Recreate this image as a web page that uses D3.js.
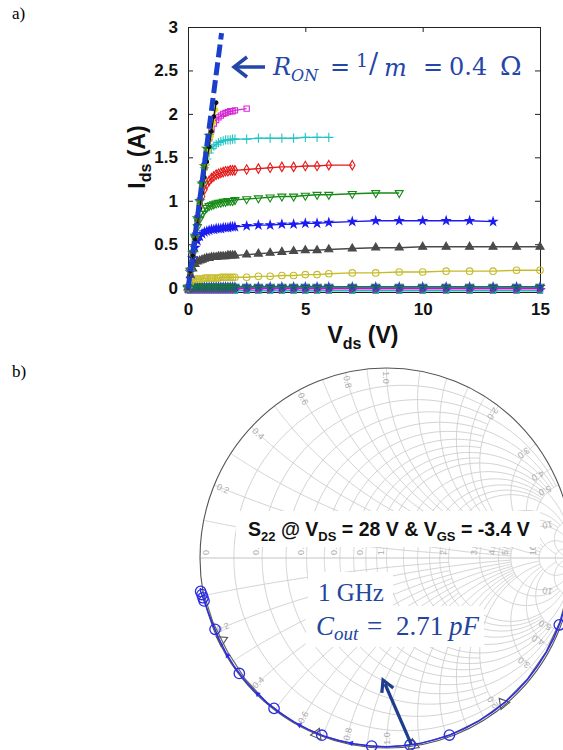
<!DOCTYPE html>
<meta charset="utf-8">
<style>
  body { margin: 0; background: #fff; }
  svg { display: block; font-family: "Liberation Sans", Arial, sans-serif; }
</style>
<script src="https://d3js.org/d3.v7.min.js"></script>
<body>
<svg id="fig" width="563" height="750"></svg>
<script>

// ---------- panel a) data : Ids (A) vs Vds (V) ----------
var vds = [0,0.1,0.2,0.3,0.4,0.5,0.6,0.7,0.8,0.9,1,1.1,1.2,1.3,1.4,1.5,1.6,1.7,1.8,1.9,2,
           2.5,3,3.5,4,4.5,5,5.5,6,7,8,9,10,11,12,13,14,15];

var idsMagenta = [0,0.2,0.4,0.6,0.8,1.0,1.2,1.4,1.58,1.72,1.82,1.89,1.93,1.96,1.98,2.0,2.01,2.02,2.03,2.03,2.04,2.06];
var idsCyan = [0,0.2,0.4,0.6,0.8,1.0,1.2,1.38,1.48,1.55,1.6,1.63,1.65,1.67,1.68,1.69,1.7,1.7,1.7,1.71,1.71,
               1.71,1.72,1.72,1.72,1.72,1.73,1.73,1.73];
var idsRed = [0,0.2,0.4,0.6,0.78,0.94,1.05,1.13,1.19,1.23,1.26,1.28,1.3,1.31,1.32,1.33,1.34,1.34,1.35,1.35,1.35,
              1.36,1.37,1.38,1.39,1.39,1.4,1.4,1.41,1.41];
var idsGreen = [0,0.2,0.4,0.57,0.7,0.79,0.85,0.89,0.92,0.94,0.95,0.96,0.97,0.98,0.98,0.99,0.99,1.0,1.0,1.0,1.01,
                1.02,1.03,1.04,1.05,1.05,1.06,1.07,1.07,1.08,1.09,1.09];
var idsBlue = [0,0.18,0.34,0.46,0.54,0.59,0.62,0.64,0.65,0.66,0.67,0.67,0.68,0.68,0.68,0.69,0.69,0.69,0.7,0.7,0.7,
               0.71,0.72,0.72,0.73,0.73,0.74,0.74,0.75,0.76,0.77,0.77,0.77,0.77,0.77,0.76];
var idsGray = [0,0.14,0.22,0.27,0.3,0.31,0.32,0.33,0.34,0.34,0.35,0.35,0.35,0.36,0.36,0.36,0.36,0.37,0.37,0.37,0.37,
               0.38,0.39,0.4,0.41,0.42,0.43,0.43,0.44,0.45,0.46,0.46,0.47,0.47,0.47,0.47,0.47,0.47];
var idsOlive = [0,0.06,0.09,0.1,0.1,0.1,0.1,0.11,0.11,0.11,0.11,0.11,0.11,0.11,0.12,0.12,0.12,0.12,0.12,0.12,0.12,
                0.12,0.13,0.13,0.14,0.14,0.15,0.15,0.16,0.17,0.17,0.18,0.18,0.19,0.19,0.19,0.2,0.2];
var idsOffGreen = [0,0.01,0.012,0.012,0.012,0.012,0.012,0.012,0.012,0.012,0.012,0.012,0.012,0.012,0.012,0.012,0.012,0.012,0.012,0.012,0.012,
                   0.012,0.012,0.012,0.012,0.012,0.012,0.012,0.012,0.012,0.012,0.012,0.012,0.012,0.012,0.012,0.012,0.012];
var idsOffBlue = [0,0.006,0.008,0.008,0.008,0.008,0.008,0.008,0.008,0.008,0.008,0.008,0.008,0.008,0.008,0.008,0.008,0.008,0.008,0.008,0.008,
                  0.008,0.008,0.008,0.008,0.008,0.008,0.008,0.008,0.008,0.008,0.008,0.008,0.008,0.008,0.008,0.008,0.008];
var idsOffMagenta = [-0.01,-0.012,-0.012,-0.012,-0.012,-0.012,-0.012,-0.012,-0.012,-0.012,-0.012,-0.012,-0.012,-0.012,-0.012,-0.012,-0.012,-0.012,-0.012,-0.012,-0.012,
                     -0.012,-0.012,-0.012,-0.012,-0.012,-0.012,-0.012,-0.012,-0.012,-0.012,-0.012,-0.012,-0.012,-0.012,-0.012,-0.012,-0.012];
var idsOffCyan = [-0.03,-0.035,-0.035,-0.035,-0.035,-0.035,-0.035,-0.035,-0.035,-0.035,-0.035,-0.035,-0.035,-0.035,-0.035,-0.035,-0.035,-0.035,-0.035,-0.035,-0.035,
                  -0.035,-0.035,-0.035,-0.035,-0.035,-0.035,-0.035,-0.035,-0.035,-0.035,-0.035,-0.035,-0.035,-0.035,-0.035,-0.035,-0.035];
// high Vgs curves that stay in the linear (Ron) region
var idsBlack = [0,0.19,0.37,0.55,0.73,0.91,1.09,1.27,1.45,1.62,1.8,1.97,2.13];
var idsYellow = [0,0.19,0.37,0.55,0.73,0.91,1.08,1.25,1.42,1.58,1.74,1.9,2.05];
var idsGreenLin = [0,0.2,0.4,0.6,0.8,1.0,1.2,1.4,1.6,1.75];

var ronLine = [[0, -0.02], [1.43, 2.93]];
var xTicks = [0, 5, 10, 15];
var yTicks = [0, 0.5, 1, 1.5, 2, 2.5, 3];

// ---------- panel b) data : S22 on Smith chart (angle deg, magnitude) ----------
var s22Line = [[-171,1.01],[-170,1.012],[-168,1.006],[-165,1.0],[-160,0.995],[-155,0.994],[-150,0.995],[-145,0.996],
               [-140,0.996],[-135,0.995],[-130,0.995],[-125,0.995],[-120,0.995],[-115,0.995],[-110,0.995],[-105,0.994],
               [-100,0.993],[-95,0.993],[-90,0.993],[-85,0.992],[-80,0.992],[-75,0.991],[-70,0.991],[-65,0.991],
               [-60,0.99],[-55,0.99],[-50,0.99],[-45,0.99],[-40,0.99],[-35,0.99],[-30,0.99],[-25,0.991],
               [-20,0.991],[-15,0.991],[-10,0.992]];
var s22Circles = [[-170,1.012],[-169,1.008],[-168,1.006],[-167,1.004],[-157.8,0.993],[-142.4,0.996],[-127.3,0.995],
                  [-110.4,0.995],[-94.6,0.993],[-82.7,0.992],[-70.1,0.991],[-20.8,0.991]];
var s22Arrows = [[-149,0.995],[-134,0.995],[-118,0.995],[-101,0.993]];
var modelLine = [[-170,1.0],[-160,0.99],[-150,0.985],[-140,0.99],[-130,0.995],[-120,0.998],[-110,0.998],[-100,0.996],
                 [-90,0.995],[-80,0.994],[-70,0.992],[-60,0.99],[-50,0.989],[-40,0.988],[-30,0.988],[-20,0.988],[-10,0.99]];
var modelTriangles = [[-153.9,0.984],[-111.9,1.0],[-81.7,0.995],[-50.7,0.989]];

var rGrid = [0.1,0.2,0.3,0.4,0.5,0.6,0.7,0.8,0.9,1,1.2,1.4,1.6,1.8,2,3,4,5,10,20];
var rGridLimit = [2,5,2,5,2,5,2,5,2,10,5,5,5,5,10,10,10,20,50,50];
var xGrid = [0.1,0.2,0.3,0.4,0.5,0.6,0.7,0.8,0.9,1,1.2,1.4,1.6,1.8,2,3,4,5,10,20];
var xGridLimit = [2,5,2,5,2,5,2,5,2,10,5,5,5,5,10,10,10,20,50,50];
var rLabels = ["0","0.2","0.4","0.6","0.8","1.0","2","3.0","4.0","5.0","10"];
var rLabelVals = [0,0.2,0.4,0.6,0.8,1.0,2,3,4,5,10];
var xLabels = ["0.2","0.4","0.6","0.8","1.0","2.0","3.0","4.0","5.0","10"];
var xLabelVals = [0.2,0.4,0.6,0.8,1.0,2,3,4,5,10];

var svg = d3.select("#fig");

// panel tags
svg.append("text").attr("x", 12).attr("y", 19).attr("font-family", "Liberation Serif").attr("font-size", 17).text("a)");
svg.append("text").attr("x", 12).attr("y", 377).attr("font-family", "Liberation Serif").attr("font-size", 17).text("b)");

// ================= panel a =================
var x = d3.scaleLinear().domain([0, 15]).range([188, 540]);
var y = d3.scaleLinear().domain([-0.05, 3]).range([292, 27]);

var gA = svg.append("g");

function styleAxis(g) {
    g.select(".domain").attr("stroke", "#222");
    g.selectAll(".tick line").attr("stroke", "#222");
}
gA.append("g").attr("transform", "translate(0,292)")
    .call(d3.axisBottom(x).tickValues(xTicks).tickSizeInner(-5).tickSizeOuter(0).tickPadding(11).tickFormat(d3.format("d")))
    .call(styleAxis)
    .selectAll("text").attr("font-size", 17).attr("font-weight", "bold").attr("fill", "#111").attr("font-family", "Liberation Sans");
gA.append("g").attr("transform", "translate(0,27)")
    .call(d3.axisTop(x).tickValues(xTicks).tickSizeInner(-5).tickSizeOuter(0).tickFormat(""))
    .call(styleAxis);
gA.append("g").attr("transform", "translate(188,0)")
    .call(d3.axisLeft(y).tickValues(yTicks).tickSizeInner(-5).tickSizeOuter(0).tickPadding(10).tickFormat(d3.format("")))
    .call(styleAxis)
    .selectAll("text").attr("font-size", 17).attr("font-weight", "bold").attr("fill", "#111").attr("font-family", "Liberation Sans");
gA.append("g").attr("transform", "translate(540,0)")
    .call(d3.axisRight(y).tickValues(yTicks).tickSizeInner(-5).tickSizeOuter(0).tickFormat(""))
    .call(styleAxis);

// axis titles
var yl = gA.append("text").attr("transform", "translate(145,157) rotate(-90)")
    .attr("text-anchor", "middle").attr("font-size", 23).attr("font-weight", "bold").attr("fill", "#111");
yl.append("tspan").text("I");
yl.append("tspan").attr("font-size", 16).attr("dy", 6).text("ds");
yl.append("tspan").attr("dy", -6).text(" (A)");

var xl = gA.append("text").attr("x", 363).attr("y", 343)
    .attr("text-anchor", "middle").attr("font-size", 23).attr("font-weight", "bold").attr("fill", "#111");
xl.append("tspan").text("V");
xl.append("tspan").attr("font-size", 16).attr("dy", 6).text("ds");
xl.append("tspan").attr("dy", -6).text(" (V)");

// curves
var curves = [
    {vals: idsOffCyan,   color: "#2fb5b5", marker: "square",  fill: "#2a6f6f"},
    {vals: idsOffMagenta,color: "#b01fc0", marker: "tright",  fill: "#b01fc0"},
    {vals: idsOffBlue,   color: "#2a2af0", marker: "star",    fill: "#2a2af0"},
    {vals: idsOffGreen,  color: "#1a7a3a", marker: "tdown",   fill: "none"},
    {vals: idsOlive,     color: "#c4bc2a", marker: "circle",  fill: "none"},
    {vals: idsGray,      color: "#4a4a4a", marker: "tup",     fill: "#4a4a4a"},
    {vals: idsBlue,      color: "#1c1cf0", marker: "star",    fill: "#1c1cf0"},
    {vals: idsGreen,     color: "#178a17", marker: "tdown",   fill: "none"},
    {vals: idsRed,       color: "#e41a1a", marker: "diamond", fill: "none"},
    {vals: idsCyan,      color: "#22c4c4", marker: "plus",    fill: "none"},
    {vals: idsMagenta,   color: "#d42ad4", marker: "square",  fill: "none"},
    {vals: idsGreenLin,  color: "#178a17", marker: "star",    fill: "#178a17"},
    {vals: idsYellow,    color: "#e0d420", marker: "point",   fill: "#e0d420"},
    {vals: idsBlack,     color: "#111111", marker: "point",   fill: "#111111"}
];

var symbolFor = {
    square: d3.symbol().type(d3.symbolSquare).size(28),
    diamond: d3.symbol().type(d3.symbolDiamond).size(26),
    circle: d3.symbol().type(d3.symbolCircle).size(34),
    tup: d3.symbol().type(d3.symbolTriangle).size(28),
    tdown: d3.symbol().type(d3.symbolTriangle).size(28),
    tright: d3.symbol().type(d3.symbolTriangle).size(28),
    star: d3.symbol().type(d3.symbolStar).size(20),
    plus: d3.symbol().type(d3.symbolPlus || d3.symbolCross).size(30),
    point: d3.symbol().type(d3.symbolCircle).size(10)
};
var rotFor = {tdown: 180, tright: 90};

var line = d3.line().x(function(d, i) { return x(vds[i]); }).y(function(d) { return y(d); });

curves.forEach(function(c) {
    var g = gA.append("g");
    g.append("path").attr("d", line(c.vals)).attr("fill", "none")
        .attr("stroke", c.color).attr("stroke-width", 1.4);
    g.selectAll("path.m").data(c.vals).enter().append("path").attr("class", "m")
        .attr("d", symbolFor[c.marker])
        .attr("transform", function(d, i) {
            return "translate(" + x(vds[i]) + "," + y(d) + ") rotate(" + (rotFor[c.marker] || 0) + ")";
        })
        .attr("fill", c.fill).attr("stroke", c.color).attr("stroke-width", 1.1);
});

// Ron dashed line
gA.append("path").attr("d", d3.line().x(function(d) { return x(d[0]); }).y(function(d) { return y(d[1]); })(ronLine))
    .attr("stroke", "#1a3fcc").attr("stroke-width", 5).attr("stroke-dasharray", "13,5").attr("fill", "none");

// annotation arrow + text
var annBlue = "#2446a8";
gA.append("line").attr("x1", 265).attr("y1", 67).attr("x2", 235).attr("y2", 67)
    .attr("stroke", annBlue).attr("stroke-width", 3.5);
gA.append("polyline").attr("points", "247,57 234,67 247,77").attr("fill", "none")
    .attr("stroke", annBlue).attr("stroke-width", 3.5).attr("stroke-linejoin", "miter");
var ron = gA.append("text").attr("y", 75).attr("fill", annBlue)
    .attr("font-family", "DejaVu Serif").attr("font-size", 24);
ron.append("tspan").attr("x", 273).attr("font-style", "italic").text("R");
ron.append("tspan").attr("font-style", "italic").attr("font-size", 16).attr("dy", 6).text("ON");
ron.append("tspan").attr("x", 330).attr("dy", -6).text("=");
ron.append("tspan").attr("x", 356).attr("font-size", 19).attr("dy", -8).text("1");
ron.append("tspan").attr("x", 369).attr("font-size", 27).attr("dy", 6).text("/");
ron.append("tspan").attr("x", 384).attr("font-style", "italic").attr("dy", 3).text("m");
ron.append("tspan").attr("x", 423).attr("dy", -1).text("=");
ron.append("tspan").attr("x", 449).text("0.4");
ron.append("tspan").attr("x", 500).attr("font-size", 26).text("Ω");

// ================= panel b : Smith chart =================
var gx = d3.scaleLinear().domain([-1, 1]).range([200, 573]);
var gy = d3.scaleLinear().domain([-1, 1]).range([748, 368]);
var gB = svg.append("g");

function gammaOf(r, xx) {
    var den = (r + 1) * (r + 1) + xx * xx;
    return [(r * r + xx * xx - 1) / den, 2 * xx / den];
}
var gline = d3.line().x(function(p) { return gx(p[0]); }).y(function(p) { return gy(p[1]); });
var N = 160;

// resistance circles
rGrid.forEach(function(r, k) {
    var lim = rGridLimit[k], pts = [];
    for (var i = -N; i <= N; i++) {
        var t = i / N;
        pts.push(gammaOf(r, lim * t * t * t));
    }
    gB.append("path").attr("d", gline(pts)).attr("fill", "none").attr("stroke", "#cdcdcd").attr("stroke-width", 0.9);
});
// reactance arcs
xGrid.forEach(function(xv, k) {
    var lim = xGridLimit[k];
    [1, -1].forEach(function(sgn) {
        var pts = [];
        for (var i = 0; i <= N; i++) {
            var t = i / N;
            pts.push(gammaOf(lim * t * t * t, sgn * xv));
        }
        gB.append("path").attr("d", gline(pts)).attr("fill", "none").attr("stroke", "#cdcdcd").attr("stroke-width", 0.9);
    });
});
// real axis
gB.append("line").attr("x1", gx(-1)).attr("x2", gx(1)).attr("y1", gy(0)).attr("y2", gy(0))
    .attr("stroke", "#c4c4c4").attr("stroke-width", 1);
// outer circle
gB.append("ellipse").attr("cx", gx(0)).attr("cy", gy(0)).attr("rx", gx(1) - gx(0)).attr("ry", gy(-1) - gy(0))
    .attr("fill", "none").attr("stroke", "#555").attr("stroke-width", 1.1);

// grid labels
rLabelVals.forEach(function(r, k) {
    var p = gammaOf(r, 0);
    var px = r === 0 ? gx(p[0]) + 9 : gx(p[0]) - 3;
    gB.append("text").attr("transform", "translate(" + px + "," + (gy(0) - 3) + ") rotate(-90)")
        .attr("font-size", 9).attr("fill", "#acacac").text(rLabels[k]);
});
xLabelVals.forEach(function(xv, k) {
    [1, -1].forEach(function(sgn) {
        var p = gammaOf(0, sgn * xv);
        var ang = Math.atan2(p[1], p[0]);
        var f = xv >= 10 ? 0.88 : (xv >= 3 ? 0.92 : 0.95);
        var q = [p[0] * f, p[1] * f];
        var deg = 180 - ang * 180 / Math.PI;
        gB.append("text").attr("transform", "translate(" + gx(q[0]) + "," + gy(q[1]) + ") rotate(" + deg + ")")
            .attr("text-anchor", "middle").attr("dy", "0.35em")
            .attr("font-size", 9).attr("fill", "#acacac").text(xLabels[k]);
    });
});

// white label boxes
gB.append("rect").attr("x", 236).attr("y", 511).attr("width", 304).attr("height", 36).attr("fill", "#fff");
gB.append("rect").attr("x", 308).attr("y", 572).attr("width", 85).attr("height", 34).attr("fill", "#fff");
gB.append("rect").attr("x", 306).attr("y", 606).attr("width", 178).attr("height", 41).attr("fill", "#fff");

var s = gB.append("text").attr("x", 248).attr("y", 536).attr("font-size", 19.5).attr("font-weight", "bold").attr("fill", "#111");
s.append("tspan").text("S");
s.append("tspan").attr("font-size", 13).attr("dy", 5).text("22");
s.append("tspan").attr("dy", -5).text(" @ V");
s.append("tspan").attr("font-size", 13).attr("dy", 5).text("DS");
s.append("tspan").attr("dy", -5).text(" = 28 V & V");
s.append("tspan").attr("font-size", 13).attr("dy", 5).text("GS");
s.append("tspan").attr("dy", -5).text(" = -3.4 V");

var polar = function(d) { var a = d[0] * Math.PI / 180; return [d[1] * Math.cos(a), d[1] * Math.sin(a)]; };

// model trace (gray, triangles)
gB.append("path").attr("d", gline(modelLine.map(polar))).attr("fill", "none").attr("stroke", "#666").attr("stroke-width", 1.2);
gB.selectAll("path.tri").data(modelTriangles).enter().append("path").attr("class", "tri")
    .attr("d", d3.symbol().type(d3.symbolTriangle).size(55))
    .attr("transform", function(d) { var p = polar(d); return "translate(" + gx(p[0]) + "," + gy(p[1]) + ") rotate(" + (-d[0] - 90) + ")"; })
    .attr("fill", "none").attr("stroke", "#555").attr("stroke-width", 1.1);

// measured trace (blue, circles)
var measBlue = "#2b2be6";
gB.append("path").attr("d", gline(s22Line.map(polar))).attr("fill", "none").attr("stroke", measBlue).attr("stroke-width", 1.5);
gB.selectAll("circle.s22").data(s22Circles).enter().append("circle").attr("class", "s22")
    .attr("cx", function(d) { return gx(polar(d)[0]); })
    .attr("cy", function(d) { return gy(polar(d)[1]); })
    .attr("r", 5.2).attr("fill", "none").attr("stroke", measBlue).attr("stroke-width", 1.3);
// small direction arrowheads on the measured trace
gB.selectAll("path.dir").data(s22Arrows).enter().append("path").attr("class", "dir")
    .attr("d", d3.symbol().type(d3.symbolTriangle).size(14))
    .attr("transform", function(d) { var p = polar(d); return "translate(" + gx(p[0]) + "," + gy(p[1]) + ") rotate(" + (-d[0] + 180) + ")"; })
    .attr("fill", measBlue);

// 1 GHz annotation
var navy = "#1e3d8c";
var tail = polar([-82.3, 0.99]);
var hx = 383, hy = 680, tx = gx(tail[0]), ty = gy(tail[1]);
gB.append("line").attr("x1", tx).attr("y1", ty).attr("x2", hx + 2).attr("y2", hy + 4)
    .attr("stroke", navy).attr("stroke-width", 3.2);
var ang = Math.atan2(hy - ty, hx - tx);
function off(a, l) { return [hx - l * Math.cos(ang + a), hy - l * Math.sin(ang + a)]; }
var a1 = off(0.5, 13), a2 = off(-0.5, 13);
gB.append("polyline").attr("points", a1.join(",") + " " + hx + "," + hy + " " + a2.join(","))
    .attr("fill", "none").attr("stroke", navy).attr("stroke-width", 3.2);

var annB = "#23459c";
gB.append("text").attr("x", 318).attr("y", 601).attr("fill", annB)
    .attr("font-family", "Liberation Serif").attr("font-size", 25).text("1 GHz");
var co = gB.append("text").attr("y", 635).attr("fill", annB)
    .attr("font-family", "Liberation Serif").attr("font-size", 27);
co.append("tspan").attr("x", 316).attr("font-style", "italic").text("C");
co.append("tspan").attr("font-style", "italic").attr("font-size", 19).attr("dy", 5).text("out");
co.append("tspan").attr("x", 367).attr("dy", -5).text("=");
co.append("tspan").attr("x", 396).text("2.71");
co.append("tspan").attr("x", 449).attr("font-style", "italic").text("pF");

</script>
</body>
